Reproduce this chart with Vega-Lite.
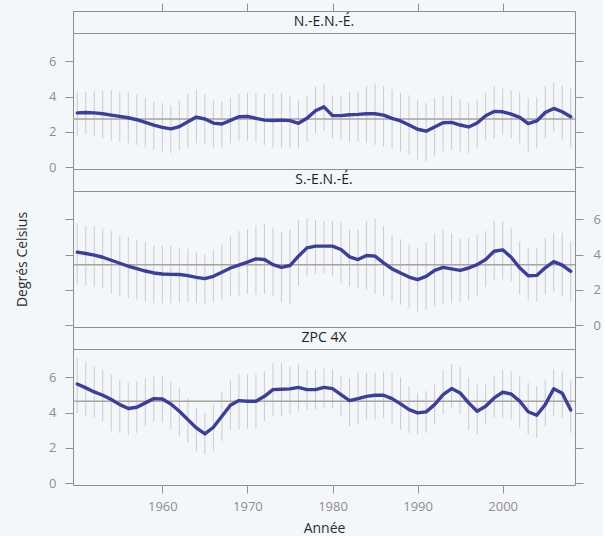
{
  "$schema": "https://vega.github.io/schema/vega-lite/v6.json",
  "background": "#f4f7fa",
  "padding": {"left": 15, "top": 2, "right": 2, "bottom": 2},
  "bounds": "flush",
  "spacing": 0,
  "datasets": {
    "panels": [
      {"region": "N.-E.N.-É.", "mean": 2.73},
      {"region": "S.-E.N.-É.", "mean": 3.43},
      {"region": "ZPC 4X", "mean": 4.64}
    ],
    "series": [
      {"region": "N.-E.N.-É.", "year": 1950, "temp": 3.08, "lo": 1.79, "hi": 4.30},
      {"region": "N.-E.N.-É.", "year": 1951, "temp": 3.10, "lo": 1.87, "hi": 4.26},
      {"region": "N.-E.N.-É.", "year": 1952, "temp": 3.08, "lo": 1.74, "hi": 4.30},
      {"region": "N.-E.N.-É.", "year": 1953, "temp": 3.03, "lo": 1.64, "hi": 4.34},
      {"region": "N.-E.N.-É.", "year": 1954, "temp": 2.95, "lo": 1.50, "hi": 4.36},
      {"region": "N.-E.N.-É.", "year": 1955, "temp": 2.88, "lo": 1.46, "hi": 4.30},
      {"region": "N.-E.N.-É.", "year": 1956, "temp": 2.80, "lo": 1.36, "hi": 4.22},
      {"region": "N.-E.N.-É.", "year": 1957, "temp": 2.69, "lo": 1.27, "hi": 4.11},
      {"region": "N.-E.N.-É.", "year": 1958, "temp": 2.54, "lo": 1.12, "hi": 3.93},
      {"region": "N.-E.N.-É.", "year": 1959, "temp": 2.39, "lo": 0.99, "hi": 3.70},
      {"region": "N.-E.N.-É.", "year": 1960, "temp": 2.26, "lo": 0.90, "hi": 3.64},
      {"region": "N.-E.N.-É.", "year": 1961, "temp": 2.17, "lo": 0.80, "hi": 3.51},
      {"region": "N.-E.N.-É.", "year": 1962, "temp": 2.30, "lo": 0.99, "hi": 3.78},
      {"region": "N.-E.N.-É.", "year": 1963, "temp": 2.58, "lo": 1.08, "hi": 4.17},
      {"region": "N.-E.N.-É.", "year": 1964, "temp": 2.84, "lo": 1.36, "hi": 4.39},
      {"region": "N.-E.N.-É.", "year": 1965, "temp": 2.73, "lo": 1.27, "hi": 4.13},
      {"region": "N.-E.N.-É.", "year": 1966, "temp": 2.50, "lo": 1.08, "hi": 3.79},
      {"region": "N.-E.N.-É.", "year": 1967, "temp": 2.45, "lo": 1.12, "hi": 3.70},
      {"region": "N.-E.N.-É.", "year": 1968, "temp": 2.65, "lo": 1.36, "hi": 3.93},
      {"region": "N.-E.N.-É.", "year": 1969, "temp": 2.86, "lo": 1.50, "hi": 4.17},
      {"region": "N.-E.N.-É.", "year": 1970, "temp": 2.88, "lo": 1.50, "hi": 4.22},
      {"region": "N.-E.N.-É.", "year": 1971, "temp": 2.77, "lo": 1.42, "hi": 4.17},
      {"region": "N.-E.N.-É.", "year": 1972, "temp": 2.67, "lo": 1.27, "hi": 4.15},
      {"region": "N.-E.N.-É.", "year": 1973, "temp": 2.65, "lo": 1.12, "hi": 4.19},
      {"region": "N.-E.N.-É.", "year": 1974, "temp": 2.67, "lo": 1.12, "hi": 4.21},
      {"region": "N.-E.N.-É.", "year": 1975, "temp": 2.64, "lo": 1.08, "hi": 4.02},
      {"region": "N.-E.N.-É.", "year": 1976, "temp": 2.49, "lo": 1.08, "hi": 3.79},
      {"region": "N.-E.N.-É.", "year": 1977, "temp": 2.77, "lo": 1.46, "hi": 4.07},
      {"region": "N.-E.N.-É.", "year": 1978, "temp": 3.20, "lo": 1.93, "hi": 4.58},
      {"region": "N.-E.N.-É.", "year": 1979, "temp": 3.42, "lo": 2.06, "hi": 4.73},
      {"region": "N.-E.N.-É.", "year": 1980, "temp": 2.92, "lo": 1.64, "hi": 4.07},
      {"region": "N.-E.N.-É.", "year": 1981, "temp": 2.92, "lo": 1.55, "hi": 4.07},
      {"region": "N.-E.N.-É.", "year": 1982, "temp": 2.97, "lo": 1.46, "hi": 4.26},
      {"region": "N.-E.N.-É.", "year": 1983, "temp": 2.99, "lo": 1.46, "hi": 4.30},
      {"region": "N.-E.N.-É.", "year": 1984, "temp": 3.03, "lo": 1.36, "hi": 4.60},
      {"region": "N.-E.N.-É.", "year": 1985, "temp": 3.03, "lo": 1.27, "hi": 4.73},
      {"region": "N.-E.N.-É.", "year": 1986, "temp": 2.95, "lo": 1.18, "hi": 4.60},
      {"region": "N.-E.N.-É.", "year": 1987, "temp": 2.77, "lo": 1.08, "hi": 4.41},
      {"region": "N.-E.N.-É.", "year": 1988, "temp": 2.62, "lo": 0.90, "hi": 4.22},
      {"region": "N.-E.N.-É.", "year": 1989, "temp": 2.39, "lo": 0.71, "hi": 4.07},
      {"region": "N.-E.N.-É.", "year": 1990, "temp": 2.15, "lo": 0.43, "hi": 3.79},
      {"region": "N.-E.N.-É.", "year": 1991, "temp": 2.04, "lo": 0.34, "hi": 3.64},
      {"region": "N.-E.N.-É.", "year": 1992, "temp": 2.28, "lo": 0.62, "hi": 3.93},
      {"region": "N.-E.N.-É.", "year": 1993, "temp": 2.52, "lo": 0.90, "hi": 4.07},
      {"region": "N.-E.N.-É.", "year": 1994, "temp": 2.54, "lo": 0.99, "hi": 4.07},
      {"region": "N.-E.N.-É.", "year": 1995, "temp": 2.39, "lo": 0.90, "hi": 3.85},
      {"region": "N.-E.N.-É.", "year": 1996, "temp": 2.28, "lo": 0.80, "hi": 3.66},
      {"region": "N.-E.N.-É.", "year": 1997, "temp": 2.50, "lo": 1.08, "hi": 3.79},
      {"region": "N.-E.N.-É.", "year": 1998, "temp": 2.92, "lo": 1.55, "hi": 4.22},
      {"region": "N.-E.N.-É.", "year": 1999, "temp": 3.16, "lo": 1.61, "hi": 4.60},
      {"region": "N.-E.N.-É.", "year": 2000, "temp": 3.14, "lo": 1.83, "hi": 4.45},
      {"region": "N.-E.N.-É.", "year": 2001, "temp": 3.01, "lo": 1.64, "hi": 4.36},
      {"region": "N.-E.N.-É.", "year": 2002, "temp": 2.82, "lo": 1.36, "hi": 4.22},
      {"region": "N.-E.N.-É.", "year": 2003, "temp": 2.47, "lo": 0.90, "hi": 3.93},
      {"region": "N.-E.N.-É.", "year": 2004, "temp": 2.62, "lo": 1.05, "hi": 3.98},
      {"region": "N.-E.N.-É.", "year": 2005, "temp": 3.10, "lo": 1.64, "hi": 4.60},
      {"region": "N.-E.N.-É.", "year": 2006, "temp": 3.33, "lo": 2.02, "hi": 4.79},
      {"region": "N.-E.N.-É.", "year": 2007, "temp": 3.14, "lo": 1.55, "hi": 4.64},
      {"region": "N.-E.N.-É.", "year": 2008, "temp": 2.86, "lo": 1.12, "hi": 4.45},

      {"region": "S.-E.N.-É.", "year": 1950, "temp": 4.14, "lo": 2.35, "hi": 5.77},
      {"region": "S.-E.N.-É.", "year": 1951, "temp": 4.06, "lo": 2.24, "hi": 5.65},
      {"region": "S.-E.N.-É.", "year": 1952, "temp": 3.97, "lo": 2.16, "hi": 5.58},
      {"region": "S.-E.N.-É.", "year": 1953, "temp": 3.85, "lo": 2.11, "hi": 5.48},
      {"region": "S.-E.N.-É.", "year": 1954, "temp": 3.68, "lo": 1.82, "hi": 5.33},
      {"region": "S.-E.N.-É.", "year": 1955, "temp": 3.51, "lo": 1.63, "hi": 5.09},
      {"region": "S.-E.N.-É.", "year": 1956, "temp": 3.34, "lo": 1.54, "hi": 4.99},
      {"region": "S.-E.N.-É.", "year": 1957, "temp": 3.21, "lo": 1.44, "hi": 4.86},
      {"region": "S.-E.N.-É.", "year": 1958, "temp": 3.07, "lo": 1.35, "hi": 4.72},
      {"region": "S.-E.N.-É.", "year": 1959, "temp": 2.96, "lo": 1.25, "hi": 4.54},
      {"region": "S.-E.N.-É.", "year": 1960, "temp": 2.90, "lo": 1.25, "hi": 4.52},
      {"region": "S.-E.N.-É.", "year": 1961, "temp": 2.88, "lo": 1.25, "hi": 4.48},
      {"region": "S.-E.N.-É.", "year": 1962, "temp": 2.87, "lo": 1.29, "hi": 4.38},
      {"region": "S.-E.N.-É.", "year": 1963, "temp": 2.81, "lo": 1.29, "hi": 4.33},
      {"region": "S.-E.N.-É.", "year": 1964, "temp": 2.71, "lo": 1.25, "hi": 4.14},
      {"region": "S.-E.N.-É.", "year": 1965, "temp": 2.64, "lo": 1.21, "hi": 4.00},
      {"region": "S.-E.N.-É.", "year": 1966, "temp": 2.77, "lo": 1.29, "hi": 4.29},
      {"region": "S.-E.N.-É.", "year": 1967, "temp": 3.00, "lo": 1.44, "hi": 4.61},
      {"region": "S.-E.N.-É.", "year": 1968, "temp": 3.24, "lo": 1.63, "hi": 5.05},
      {"region": "S.-E.N.-É.", "year": 1969, "temp": 3.40, "lo": 1.67, "hi": 5.33},
      {"region": "S.-E.N.-É.", "year": 1970, "temp": 3.57, "lo": 1.78, "hi": 5.43},
      {"region": "S.-E.N.-É.", "year": 1971, "temp": 3.76, "lo": 1.73, "hi": 5.65},
      {"region": "S.-E.N.-É.", "year": 1972, "temp": 3.72, "lo": 1.78, "hi": 5.71},
      {"region": "S.-E.N.-É.", "year": 1973, "temp": 3.43, "lo": 1.63, "hi": 5.52},
      {"region": "S.-E.N.-É.", "year": 1974, "temp": 3.28, "lo": 1.30, "hi": 5.30},
      {"region": "S.-E.N.-É.", "year": 1975, "temp": 3.38, "lo": 1.21, "hi": 5.43},
      {"region": "S.-E.N.-É.", "year": 1976, "temp": 3.91, "lo": 2.24, "hi": 5.96},
      {"region": "S.-E.N.-É.", "year": 1977, "temp": 4.38, "lo": 2.77, "hi": 6.03},
      {"region": "S.-E.N.-É.", "year": 1978, "temp": 4.48, "lo": 2.92, "hi": 5.96},
      {"region": "S.-E.N.-É.", "year": 1979, "temp": 4.48, "lo": 2.96, "hi": 5.90},
      {"region": "S.-E.N.-É.", "year": 1980, "temp": 4.48, "lo": 2.77, "hi": 5.90},
      {"region": "S.-E.N.-É.", "year": 1981, "temp": 4.29, "lo": 2.39, "hi": 5.81},
      {"region": "S.-E.N.-É.", "year": 1982, "temp": 3.87, "lo": 2.20, "hi": 5.43},
      {"region": "S.-E.N.-É.", "year": 1983, "temp": 3.72, "lo": 2.11, "hi": 5.43},
      {"region": "S.-E.N.-É.", "year": 1984, "temp": 3.95, "lo": 2.01, "hi": 5.90},
      {"region": "S.-E.N.-É.", "year": 1985, "temp": 3.91, "lo": 1.78, "hi": 6.03},
      {"region": "S.-E.N.-É.", "year": 1986, "temp": 3.53, "lo": 1.63, "hi": 5.62},
      {"region": "S.-E.N.-É.", "year": 1987, "temp": 3.19, "lo": 1.35, "hi": 5.09},
      {"region": "S.-E.N.-É.", "year": 1988, "temp": 2.96, "lo": 1.16, "hi": 4.86},
      {"region": "S.-E.N.-É.", "year": 1989, "temp": 2.73, "lo": 0.97, "hi": 4.57},
      {"region": "S.-E.N.-É.", "year": 1990, "temp": 2.58, "lo": 0.78, "hi": 4.38},
      {"region": "S.-E.N.-É.", "year": 1991, "temp": 2.77, "lo": 0.87, "hi": 4.67},
      {"region": "S.-E.N.-É.", "year": 1992, "temp": 3.11, "lo": 1.06, "hi": 5.20},
      {"region": "S.-E.N.-É.", "year": 1993, "temp": 3.28, "lo": 1.21, "hi": 5.43},
      {"region": "S.-E.N.-É.", "year": 1994, "temp": 3.19, "lo": 1.25, "hi": 5.20},
      {"region": "S.-E.N.-É.", "year": 1995, "temp": 3.11, "lo": 1.29, "hi": 4.90},
      {"region": "S.-E.N.-É.", "year": 1996, "temp": 3.24, "lo": 1.40, "hi": 4.95},
      {"region": "S.-E.N.-É.", "year": 1997, "temp": 3.43, "lo": 1.63, "hi": 5.14},
      {"region": "S.-E.N.-É.", "year": 1998, "temp": 3.72, "lo": 2.16, "hi": 5.33},
      {"region": "S.-E.N.-É.", "year": 1999, "temp": 4.19, "lo": 2.58, "hi": 5.90},
      {"region": "S.-E.N.-É.", "year": 2000, "temp": 4.27, "lo": 2.60, "hi": 5.89},
      {"region": "S.-E.N.-É.", "year": 2001, "temp": 3.85, "lo": 2.49, "hi": 5.51},
      {"region": "S.-E.N.-É.", "year": 2002, "temp": 3.25, "lo": 1.74, "hi": 4.75},
      {"region": "S.-E.N.-É.", "year": 2003, "temp": 2.80, "lo": 1.45, "hi": 4.38},
      {"region": "S.-E.N.-É.", "year": 2004, "temp": 2.82, "lo": 1.36, "hi": 4.38},
      {"region": "S.-E.N.-É.", "year": 2005, "temp": 3.25, "lo": 1.74, "hi": 4.94},
      {"region": "S.-E.N.-É.", "year": 2006, "temp": 3.60, "lo": 1.92, "hi": 5.22},
      {"region": "S.-E.N.-É.", "year": 2007, "temp": 3.40, "lo": 1.64, "hi": 5.22},
      {"region": "S.-E.N.-É.", "year": 2008, "temp": 3.05, "lo": 1.36, "hi": 4.75},

      {"region": "ZPC 4X", "year": 1950, "temp": 5.62, "lo": 3.98, "hi": 7.09},
      {"region": "ZPC 4X", "year": 1951, "temp": 5.40, "lo": 3.79, "hi": 6.91},
      {"region": "ZPC 4X", "year": 1952, "temp": 5.17, "lo": 3.70, "hi": 6.62},
      {"region": "ZPC 4X", "year": 1953, "temp": 4.98, "lo": 3.51, "hi": 6.43},
      {"region": "ZPC 4X", "year": 1954, "temp": 4.74, "lo": 2.94, "hi": 6.15},
      {"region": "ZPC 4X", "year": 1955, "temp": 4.45, "lo": 2.85, "hi": 5.87},
      {"region": "ZPC 4X", "year": 1956, "temp": 4.23, "lo": 2.75, "hi": 5.68},
      {"region": "ZPC 4X", "year": 1957, "temp": 4.30, "lo": 2.85, "hi": 5.77},
      {"region": "ZPC 4X", "year": 1958, "temp": 4.55, "lo": 3.23, "hi": 5.96},
      {"region": "ZPC 4X", "year": 1959, "temp": 4.79, "lo": 3.51, "hi": 6.06},
      {"region": "ZPC 4X", "year": 1960, "temp": 4.77, "lo": 3.42, "hi": 6.06},
      {"region": "ZPC 4X", "year": 1961, "temp": 4.49, "lo": 3.04, "hi": 5.77},
      {"region": "ZPC 4X", "year": 1962, "temp": 4.08, "lo": 2.66, "hi": 5.40},
      {"region": "ZPC 4X", "year": 1963, "temp": 3.60, "lo": 2.28, "hi": 4.83},
      {"region": "ZPC 4X", "year": 1964, "temp": 3.13, "lo": 1.81, "hi": 4.26},
      {"region": "ZPC 4X", "year": 1965, "temp": 2.79, "lo": 1.62, "hi": 3.98},
      {"region": "ZPC 4X", "year": 1966, "temp": 3.17, "lo": 1.81, "hi": 4.45},
      {"region": "ZPC 4X", "year": 1967, "temp": 3.79, "lo": 2.38, "hi": 5.21},
      {"region": "ZPC 4X", "year": 1968, "temp": 4.42, "lo": 3.04, "hi": 5.87},
      {"region": "ZPC 4X", "year": 1969, "temp": 4.68, "lo": 3.04, "hi": 6.15},
      {"region": "ZPC 4X", "year": 1970, "temp": 4.64, "lo": 3.09, "hi": 6.15},
      {"region": "ZPC 4X", "year": 1971, "temp": 4.64, "lo": 3.09, "hi": 6.15},
      {"region": "ZPC 4X", "year": 1972, "temp": 4.92, "lo": 3.51, "hi": 6.34},
      {"region": "ZPC 4X", "year": 1973, "temp": 5.30, "lo": 3.79, "hi": 6.81},
      {"region": "ZPC 4X", "year": 1974, "temp": 5.32, "lo": 3.80, "hi": 6.80},
      {"region": "ZPC 4X", "year": 1975, "temp": 5.34, "lo": 3.89, "hi": 6.62},
      {"region": "ZPC 4X", "year": 1976, "temp": 5.43, "lo": 4.08, "hi": 6.72},
      {"region": "ZPC 4X", "year": 1977, "temp": 5.30, "lo": 4.17, "hi": 6.43},
      {"region": "ZPC 4X", "year": 1978, "temp": 5.30, "lo": 4.17, "hi": 6.43},
      {"region": "ZPC 4X", "year": 1979, "temp": 5.43, "lo": 4.26, "hi": 6.49},
      {"region": "ZPC 4X", "year": 1980, "temp": 5.36, "lo": 4.26, "hi": 6.43},
      {"region": "ZPC 4X", "year": 1981, "temp": 5.02, "lo": 3.79, "hi": 6.06},
      {"region": "ZPC 4X", "year": 1982, "temp": 4.68, "lo": 3.23, "hi": 5.96},
      {"region": "ZPC 4X", "year": 1983, "temp": 4.79, "lo": 3.32, "hi": 6.25},
      {"region": "ZPC 4X", "year": 1984, "temp": 4.92, "lo": 3.60, "hi": 6.25},
      {"region": "ZPC 4X", "year": 1985, "temp": 4.98, "lo": 3.60, "hi": 6.25},
      {"region": "ZPC 4X", "year": 1986, "temp": 4.98, "lo": 3.70, "hi": 6.34},
      {"region": "ZPC 4X", "year": 1987, "temp": 4.79, "lo": 3.32, "hi": 6.25},
      {"region": "ZPC 4X", "year": 1988, "temp": 4.49, "lo": 3.04, "hi": 6.00},
      {"region": "ZPC 4X", "year": 1989, "temp": 4.17, "lo": 2.85, "hi": 5.49},
      {"region": "ZPC 4X", "year": 1990, "temp": 3.98, "lo": 2.75, "hi": 5.11},
      {"region": "ZPC 4X", "year": 1991, "temp": 4.04, "lo": 2.85, "hi": 5.21},
      {"region": "ZPC 4X", "year": 1992, "temp": 4.45, "lo": 3.32, "hi": 5.58},
      {"region": "ZPC 4X", "year": 1993, "temp": 5.02, "lo": 3.89, "hi": 6.43},
      {"region": "ZPC 4X", "year": 1994, "temp": 5.36, "lo": 4.26, "hi": 6.75},
      {"region": "ZPC 4X", "year": 1995, "temp": 5.11, "lo": 3.89, "hi": 6.57},
      {"region": "ZPC 4X", "year": 1996, "temp": 4.55, "lo": 3.04, "hi": 6.00},
      {"region": "ZPC 4X", "year": 1997, "temp": 4.08, "lo": 2.79, "hi": 5.58},
      {"region": "ZPC 4X", "year": 1998, "temp": 4.36, "lo": 3.36, "hi": 5.58},
      {"region": "ZPC 4X", "year": 1999, "temp": 4.83, "lo": 3.70, "hi": 6.11},
      {"region": "ZPC 4X", "year": 2000, "temp": 5.15, "lo": 3.70, "hi": 6.43},
      {"region": "ZPC 4X", "year": 2001, "temp": 5.05, "lo": 3.60, "hi": 6.34},
      {"region": "ZPC 4X", "year": 2002, "temp": 4.65, "lo": 3.13, "hi": 6.06},
      {"region": "ZPC 4X", "year": 2003, "temp": 4.05, "lo": 2.75, "hi": 5.68},
      {"region": "ZPC 4X", "year": 2004, "temp": 3.85, "lo": 2.57, "hi": 5.49},
      {"region": "ZPC 4X", "year": 2005, "temp": 4.45, "lo": 3.23, "hi": 5.87},
      {"region": "ZPC 4X", "year": 2006, "temp": 5.35, "lo": 3.79, "hi": 6.47},
      {"region": "ZPC 4X", "year": 2007, "temp": 5.10, "lo": 3.70, "hi": 6.34},
      {"region": "ZPC 4X", "year": 2008, "temp": 4.15, "lo": 2.85, "hi": 5.87}
    ]
  },
  "vconcat": [
    {
      "width": 502, "height": 22,
      "data": {"name": "panels"},
      "transform": [{"filter": {"field": "region", "equal": "N.-E.N.-É."}}],
      "mark": {"type": "text", "font": "Open Sans", "fontSize": 14, "color": "#1e1e1e", "baseline": "middle"},
      "encoding": {
        "x": {"datum": 1979, "type": "quantitative", "scale": {"domain": [1949.5, 2008.5], "nice": false, "zero": false},
              "axis": {"orient": "top", "values": [1960, 1970, 1980, 1990, 2000], "labels": false, "title": null, "tickSize": 8}},
        "text": {"field": "region"}
      }
    },
    {
      "width": 502, "height": 136,
      "resolve": {"axis": {"y": "independent"}},
      "layer": [
        {
          "data": {"name": "series"},
          "transform": [{"filter": {"field": "region", "equal": "N.-E.N.-É."}}],
          "mark": {"type": "rule", "color": "#cbcbcb", "strokeWidth": 1},
          "encoding": {
            "x": {"field": "year", "type": "quantitative", "scale": {"domain": [1949.5, 2008.5], "nice": false, "zero": false}, "axis": null},
            "y": {"field": "lo", "type": "quantitative", "scale": {"domain": [-0.1, 7.6], "nice": false, "zero": false},
                  "axis": {"orient": "left", "values": [0, 2, 4, 6], "title": null}},
            "y2": {"field": "hi"}
          }
        },
        {
          "data": {"name": "panels"},
          "transform": [{"filter": {"field": "region", "equal": "N.-E.N.-É."}}],
          "mark": {"type": "rule", "color": "#a9a49c", "strokeWidth": 1.5},
          "encoding": {"y": {"field": "mean", "type": "quantitative", "axis": null}}
        },
        {
          "data": {"name": "series"},
          "transform": [{"filter": {"field": "region", "equal": "N.-E.N.-É."}}],
          "mark": {"type": "line", "color": "#3a3e9c", "strokeWidth": 3.4, "strokeJoin": "round", "strokeCap": "round"},
          "encoding": {
            "x": {"field": "year", "type": "quantitative", "axis": null},
            "y": {"field": "temp", "type": "quantitative", "axis": {"orient": "right", "values": [0, 2, 4, 6], "labels": false, "title": null}}
          }
        }
      ]
    },
    {
      "width": 502, "height": 22,
      "data": {"name": "panels"},
      "transform": [{"filter": {"field": "region", "equal": "S.-E.N.-É."}}],
      "mark": {"type": "text", "font": "Open Sans", "fontSize": 14, "color": "#1e1e1e", "baseline": "middle"},
      "encoding": {
        "x": {"datum": 1979, "type": "quantitative", "scale": {"domain": [1949.5, 2008.5], "nice": false, "zero": false}, "axis": null},
        "text": {"field": "region"}
      }
    },
    {
      "width": 502, "height": 136,
      "resolve": {"axis": {"y": "independent"}},
      "layer": [
        {
          "data": {"name": "series"},
          "transform": [{"filter": {"field": "region", "equal": "S.-E.N.-É."}}],
          "mark": {"type": "rule", "color": "#cbcbcb", "strokeWidth": 1},
          "encoding": {
            "x": {"field": "year", "type": "quantitative", "scale": {"domain": [1949.5, 2008.5], "nice": false, "zero": false}, "axis": null},
            "y": {"field": "lo", "type": "quantitative", "scale": {"domain": [-0.1, 7.6], "nice": false, "zero": false},
                  "axis": {"orient": "left", "values": [0, 2, 4, 6], "labels": false, "title": "Degrés Celsius", "titlePadding": 35}},
            "y2": {"field": "hi"}
          }
        },
        {
          "data": {"name": "panels"},
          "transform": [{"filter": {"field": "region", "equal": "S.-E.N.-É."}}],
          "mark": {"type": "rule", "color": "#a9a49c", "strokeWidth": 1.5},
          "encoding": {"y": {"field": "mean", "type": "quantitative", "axis": null}}
        },
        {
          "data": {"name": "series"},
          "transform": [{"filter": {"field": "region", "equal": "S.-E.N.-É."}}],
          "mark": {"type": "line", "color": "#3a3e9c", "strokeWidth": 3.4, "strokeJoin": "round", "strokeCap": "round"},
          "encoding": {
            "x": {"field": "year", "type": "quantitative", "axis": null},
            "y": {"field": "temp", "type": "quantitative", "axis": {"orient": "right", "values": [0, 2, 4, 6], "title": null, "labelPadding": 10}}
          }
        }
      ]
    },
    {
      "width": 502, "height": 22,
      "data": {"name": "panels"},
      "transform": [{"filter": {"field": "region", "equal": "ZPC 4X"}}],
      "mark": {"type": "text", "font": "Open Sans", "fontSize": 14, "color": "#1e1e1e", "baseline": "middle"},
      "encoding": {
        "x": {"datum": 1979, "type": "quantitative", "scale": {"domain": [1949.5, 2008.5], "nice": false, "zero": false}, "axis": null},
        "text": {"field": "region"}
      }
    },
    {
      "width": 502, "height": 136,
      "resolve": {"axis": {"y": "independent"}},
      "layer": [
        {
          "data": {"name": "series"},
          "transform": [{"filter": {"field": "region", "equal": "ZPC 4X"}}],
          "mark": {"type": "rule", "color": "#cbcbcb", "strokeWidth": 1},
          "encoding": {
            "x": {"field": "year", "type": "quantitative", "scale": {"domain": [1949.5, 2008.5], "nice": false, "zero": false},
                  "axis": {"orient": "bottom", "values": [1960, 1970, 1980, 1990, 2000], "format": "d", "title": "Année", "labelPadding": 7, "titlePadding": 8}},
            "y": {"field": "lo", "type": "quantitative", "scale": {"domain": [-0.1, 7.6], "nice": false, "zero": false},
                  "axis": {"orient": "left", "values": [0, 2, 4, 6], "title": null}},
            "y2": {"field": "hi"}
          }
        },
        {
          "data": {"name": "panels"},
          "transform": [{"filter": {"field": "region", "equal": "ZPC 4X"}}],
          "mark": {"type": "rule", "color": "#a9a49c", "strokeWidth": 1.5},
          "encoding": {"y": {"field": "mean", "type": "quantitative", "axis": null}}
        },
        {
          "data": {"name": "series"},
          "transform": [{"filter": {"field": "region", "equal": "ZPC 4X"}}],
          "mark": {"type": "line", "color": "#3a3e9c", "strokeWidth": 3.4, "strokeJoin": "round", "strokeCap": "round"},
          "encoding": {
            "x": {"field": "year", "type": "quantitative",
                  "axis": {"orient": "bottom", "values": [1960, 1970, 1980, 1990, 2000], "format": "d", "title": "Année", "labelPadding": 7, "titlePadding": 8}},
            "y": {"field": "temp", "type": "quantitative", "axis": {"orient": "right", "values": [0, 2, 4, 6], "labels": false, "title": null}}
          }
        }
      ]
    }
  ],
  "config": {
    "view": {"stroke": "#8f8f8f", "strokeWidth": 1},
    "concat": {"spacing": 0},
    "axis": {
      "grid": false, "domain": false,
      "tickColor": "#929292", "tickSize": 8, "tickWidth": 1,
      "labelFont": "Open Sans", "labelFontSize": 13, "labelColor": "#8e8e8e", "labelPadding": 9,
      "titleFont": "Open Sans", "titleFontSize": 14, "titleFontWeight": "normal", "titleColor": "#2e2e2e"
    }
  }
}
